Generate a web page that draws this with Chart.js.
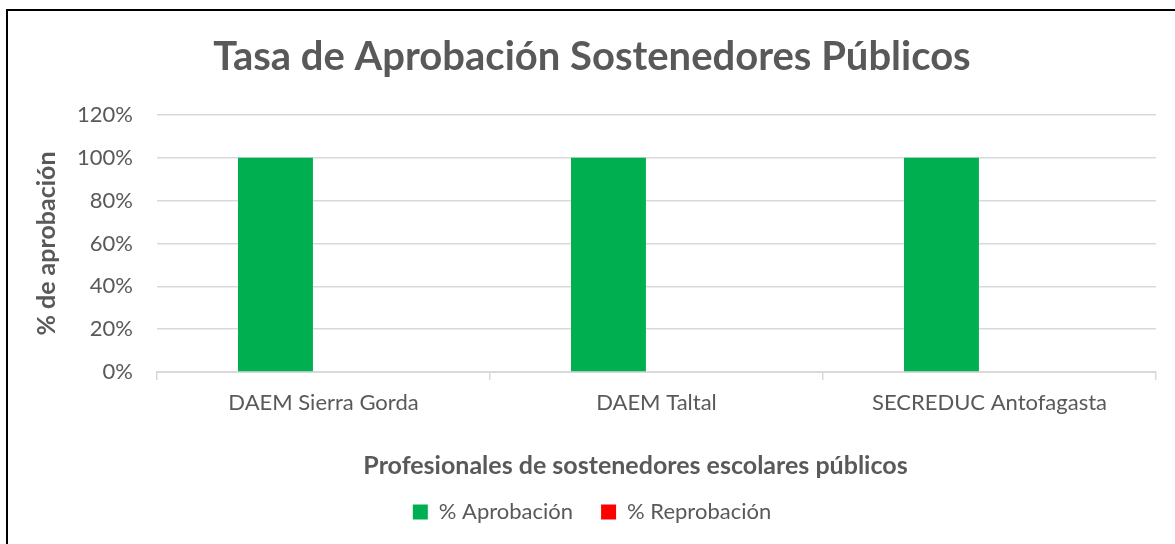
<!DOCTYPE html>
<html>
<head>
<meta charset="utf-8">
<script src="https://cdn.jsdelivr.net/npm/chart.js@4.4.1/dist/chart.umd.min.js"></script>
<style>
  html, body { margin: 0; padding: 0; background: #fff; overflow: hidden; width: 1175px; height: 544px; }
  #frame { position: absolute; left: 6px; top: 9px; width: 1180px; height: 545px; border-left: 2px solid #000; border-top: 2px solid #000; box-sizing: border-box; background: #fff; }
  #wrap { position: absolute; left: 0; top: 0; width: 1178px; height: 522px; }
</style>
</head>
<body>
<div id="frame"><div id="wrap"><canvas id="c"></canvas></div></div>
<script>
const categories = ['DAEM Sierra Gorda', 'DAEM Taltal', 'SECREDUC Antofagasta'];
const seriesNames = ['% Aprobación', '% Reprobación'];
const aprobacion = [100, 100, 100];
const reprobacion = [0, 0, 0];
const yTickValues = [0, 20, 40, 60, 80, 100, 120];
const chartTitle = 'Tasa de Aprobación Sostenedores Públicos';
const yAxisTitle = '% de aprobación';
const xAxisTitle = 'Profesionales de sostenedores escolares públicos';

const FONT = 'Lato, "Open Sans", sans-serif';
const TEXT = '#595959';

const xTitlePlugin = {
  id: 'xTitle',
  afterDraw(chart, args, opts) {
    const ctx = chart.ctx;
    ctx.save();
    ctx.font = 'bold ' + opts.size + 'px ' + FONT;
    ctx.fillStyle = TEXT;
    ctx.textAlign = 'center';
    ctx.textBaseline = 'middle';
    ctx.fillText(opts.text, (chart.chartArea.left + chart.chartArea.right) / 2 + opts.dx, chart.chartArea.bottom + opts.gap);
    ctx.restore();
  }
};

new Chart(document.getElementById('c'), {
  type: 'bar',
  data: {
    labels: categories,
    datasets: [
      { label: seriesNames[0], data: aprobacion, backgroundColor: '#00B050', borderWidth: 0 },
      { label: seriesNames[1], data: reprobacion, backgroundColor: '#FF0000', borderWidth: 0 }
    ]
  },
  plugins: [xTitlePlugin],
  options: {
    responsive: true,
    maintainAspectRatio: false,
    animation: false,
    datasets: { bar: { categoryPercentage: 0.577, barPercentage: 0.78 } },
    layout: { padding: { left: 20, right: 30, top: 0, bottom: 0 } },
    plugins: {
      title: {
        display: true,
        text: chartTitle,
        color: TEXT,
        font: { family: FONT, size: 40, weight: 'bold' },
        padding: { top: 22, bottom: 34 }
      },
      legend: {
        position: 'bottom',
        labels: {
          color: TEXT,
          font: { family: FONT, size: 22 },
          boxWidth: 15,
          boxHeight: 15,
          padding: 28
        }
      },
      tooltip: { enabled: false },
      xTitle: { text: xAxisTitle, size: 25, dx: -21, gap: 94 }
    },
    scales: {
      x: {
        grid: { drawOnChartArea: false, drawTicks: true, tickLength: 8, color: '#d9d9d9', lineWidth: 1.5, offset: true },
        border: { display: true, color: '#d9d9d9', width: 2 },
        ticks: { color: TEXT, font: { family: FONT, size: 22 }, padding: 10 },
        afterFit(scale) { scale.height = 101; }
      },
      y: {
        min: 0,
        max: 120,
        afterBuildTicks(scale) { scale.ticks = yTickValues.map(v => ({ value: v })); },
        grid: { color: '#d9d9d9', lineWidth: 1.5, drawTicks: false },
        border: { display: false },
        ticks: { color: TEXT, font: { family: FONT, size: 22 }, padding: 24, callback: v => v + '%' },
        title: { display: true, text: yAxisTitle, color: TEXT, font: { family: FONT, size: 25, weight: 'bold' }, padding: { top: 4, bottom: 4 } },
        afterFit(scale) { scale.width = 129; }
      }
    }
  }
});
</script>
</body>
</html>
